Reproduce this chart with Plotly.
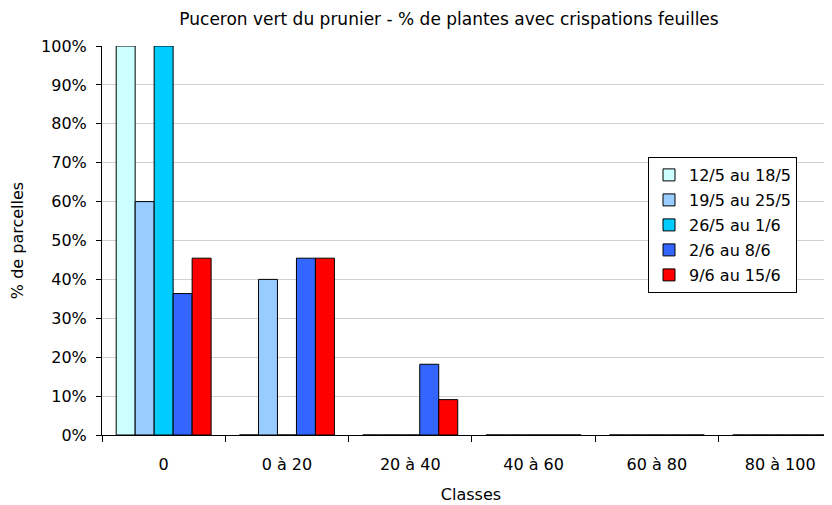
import plotly.graph_objects as go

categories = ["0", "0 à 20", "20 à 40", "40 à 60", "60 à 80", "80 à 100"]
series_names = ["12/5 au 18/5", "19/5 au 25/5", "26/5 au 1/6", "2/6 au 8/6", "9/6 au 15/6"]
s1 = [1.0, 0.0, 0.0, 0.0, 0.0, 0.0]
s2 = [0.6, 0.4, 0.0, 0.0, 0.0, 0.0]
s3 = [1.0, 0.0, 0.0, 0.0, 0.0, 0.0]
s4 = [0.3636, 0.4545, 0.1818, 0.0, 0.0, 0.0]
s5 = [0.4545, 0.4545, 0.0909, 0.0, 0.0, 0.0]
colors = ["#CCFFFF", "#99CCFF", "#00CCFF", "#3366FF", "#FF0000"]

FONT = "DejaVu Sans, Liberation Sans, Arial, sans-serif"

W, H = 832, 505
ML, MT, MB = 94, 38, 78
plot_w = W - ML
plot_h = H - MT - MB

fig = go.Figure()
for i, (name, vals) in enumerate(zip(series_names, [s1, s2, s3, s4, s5])):
    fig.add_trace(go.Bar(
        x=categories, y=vals, name=name,
        marker=dict(color=colors[i], line=dict(color="black", width=1)),
        legendgroup=f"g{i}",
    ))

fig.update_layout(
    width=W, height=H,
    margin=dict(l=ML, r=0, t=MT, b=MB),
    paper_bgcolor="white", plot_bgcolor="white",
    font=dict(family=FONT, size=16, color="black"),
    barmode="group", bargap=0.23, bargroupgap=0,
    title=dict(text="Puceron vert du prunier - % de plantes avec crispations feuilles",
               x=441/W, xanchor="center", y=1-11/H, yanchor="middle",
               font=dict(family=FONT, size=17, color="black")),
    legend=dict(x=(640-ML)/plot_w, xanchor="left",
                y=(plot_h - (157 - 8 - MT)) / plot_h, yanchor="top",
                bgcolor="white", bordercolor="black", borderwidth=1,
                tracegroupgap=1.2, font=dict(family=FONT, size=16),
                itemwidth=30),
    showlegend=True,
)

fig.update_xaxes(
    type="category", range=[-0.5, -0.5 + plot_w / 123.3],
    showline=True, linecolor="black", linewidth=1,
    ticks="outside", tickson="boundaries", ticklen=6, tickcolor="black",
    showgrid=False, ticklabelstandoff=15,
    title=dict(text="Classes", font=dict(family=FONT, size=16), standoff=15),
)
fig.update_yaxes(
    range=[0, 1], tickformat=".0%", dtick=0.1,
    showline=True, linecolor="black", linewidth=1,
    ticks="outside", ticklen=5, tickcolor="black",
    showgrid=True, gridcolor="#d0d0d0", gridwidth=1,
    zeroline=False, ticklabelstandoff=6,
    title=dict(text="% de parcelles", font=dict(family=FONT, size=16)),
)

fig.write_html("out.html")
